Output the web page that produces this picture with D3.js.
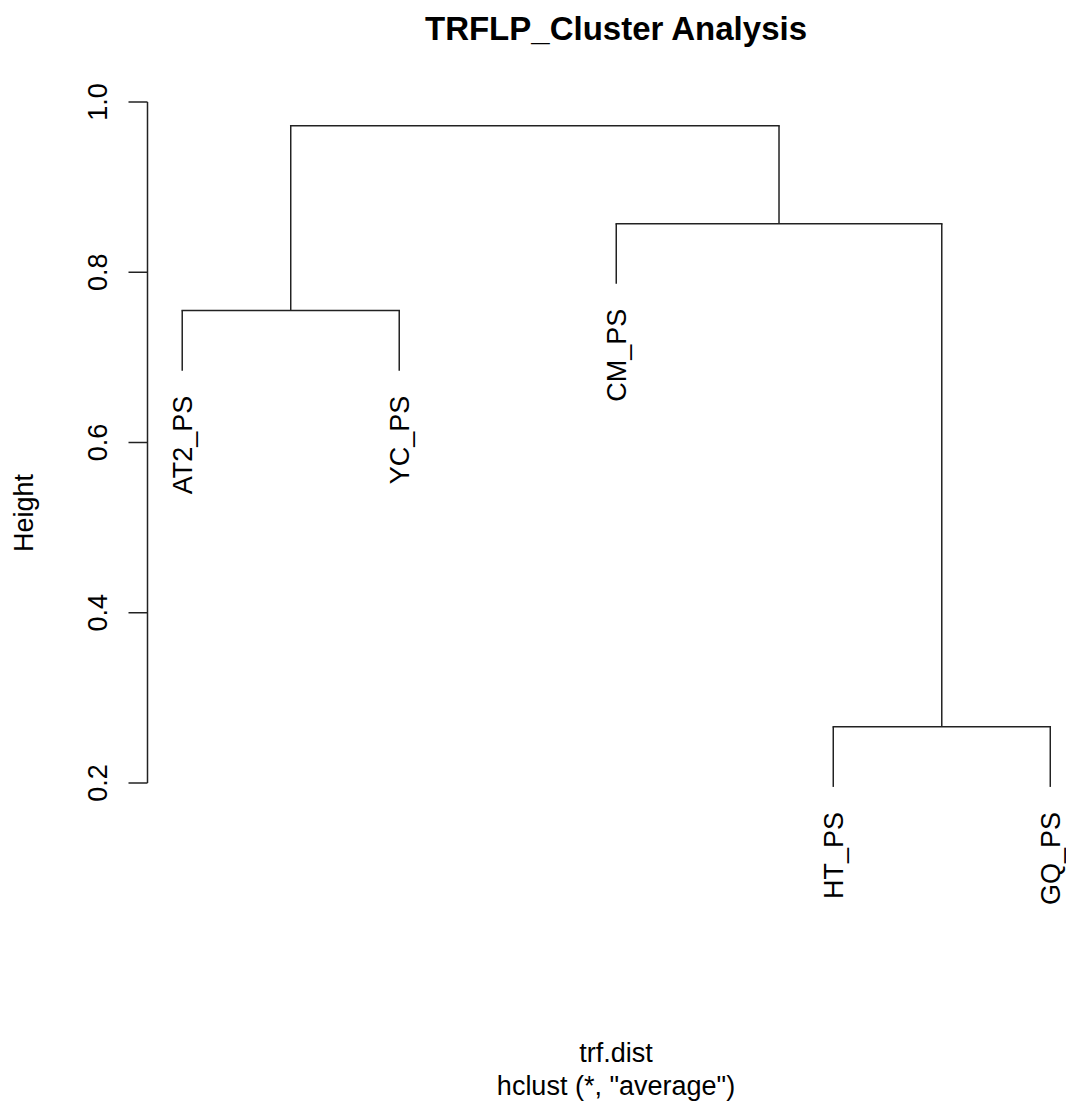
<!DOCTYPE html>
<html>
<head>
<meta charset="utf-8">
<script src="https://cdn.jsdelivr.net/npm/d3@7"></script>
<style>
  body { margin: 0; background: #fff; }
  text { font-family: "Liberation Sans", Arial, sans-serif; fill: #000; }
</style>
</head>
<body>
<div id="chart"></div>
<script>
// leaves in plotting order
var labels = ["AT2_PS", "YC_PS", "CM_PS", "HT_PS", "GQ_PS"];
// R-style merge table: negative = leaf (1-based), positive = earlier merge
var mergeA = [-4, -1, -3, 2];
var mergeB = [-5, -2, 1, 3];
var heights = [0.266, 0.755, 0.857, 0.972];
var yTicks = [0.2, 0.4, 0.6, 0.8, 1.0];

var W = 1066, H = 1105;
var hang = 0.1 * (d3.max(heights) - d3.min(heights));

var svg = d3.select("#chart").append("svg")
  .attr("width", W)
  .attr("height", H);

var x = d3.scaleLinear().domain([0.84, 5.16]).range([147.5, 1085]);
var y = d3.scaleLinear().domain([0.2, 1.0]).range([783, 102]);

// position of each node
var pos = function (id) {
  if (id < 0) return -id;
  return nodes[id - 1].x;
};
var nodes = [];
for (var i = 0; i < heights.length; i++) {
  var xa = pos(mergeA[i]), xb = pos(mergeB[i]);
  nodes.push({x: (xa + xb) / 2, h: heights[i]});
}

var g = svg.append("g");
var stroke = "#222";

heights.forEach(function (h, i) {
  [mergeA[i], mergeB[i]].forEach(function (c) {
    var cx = pos(c);
    var bottom = c < 0 ? h - hang : nodes[c - 1].h;
    g.append("line")
      .attr("x1", x(cx)).attr("x2", x(cx))
      .attr("y1", y(h)).attr("y2", y(bottom))
      .attr("stroke", stroke).attr("stroke-width", 1.5);
  });
  g.append("line")
    .attr("x1", x(pos(mergeA[i]))).attr("x2", x(pos(mergeB[i])))
    .attr("y1", y(h)).attr("y2", y(h))
    .attr("stroke", stroke).attr("stroke-width", 1.5)
    .attr("stroke-linecap", "square");
});

// leaf labels
heights.forEach(function (h, i) {
  [mergeA[i], mergeB[i]].forEach(function (c) {
    if (c > 0) return;
    var lx = x(-c), ly = y(h - hang) + 25;
    g.append("text")
      .attr("transform", "translate(" + lx + "," + ly + ") rotate(-90)")
      .attr("text-anchor", "end")
      .attr("dy", "0.36em")
      .attr("font-size", "27px")
      .text(labels[-c - 1]);
  });
});

// y axis, R style
var ax = svg.append("g");
ax.append("line")
  .attr("x1", x.range()[0]).attr("x2", x.range()[0])
  .attr("y1", y(0.2)).attr("y2", y(1.0))
  .attr("stroke", stroke).attr("stroke-width", 1.5);
yTicks.forEach(function (t) {
  ax.append("line")
    .attr("x1", x.range()[0] - 19).attr("x2", x.range()[0])
    .attr("y1", y(t)).attr("y2", y(t))
    .attr("stroke", stroke).attr("stroke-width", 1.5);
  ax.append("text")
    .attr("transform", "translate(107," + y(t) + ") rotate(-90)")
    .attr("text-anchor", "middle")
    .attr("font-size", "27px")
    .text(d3.format(".1f")(t));
});

svg.append("text")
  .attr("transform", "translate(33,513) rotate(-90)")
  .attr("text-anchor", "middle")
  .attr("font-size", "27px")
  .text("Height");

svg.append("text")
  .attr("x", 616).attr("y", 40)
  .attr("text-anchor", "middle")
  .attr("font-size", "33px")
  .attr("font-weight", "bold")
  .text("TRFLP_Cluster Analysis");

svg.append("text")
  .attr("x", 616).attr("y", 1062)
  .attr("text-anchor", "middle")
  .attr("font-size", "27px")
  .text("trf.dist");

svg.append("text")
  .attr("x", 616).attr("y", 1095)
  .attr("text-anchor", "middle")
  .attr("font-size", "27px")
  .text('hclust (*, "average")');
</script>
</body>
</html>
